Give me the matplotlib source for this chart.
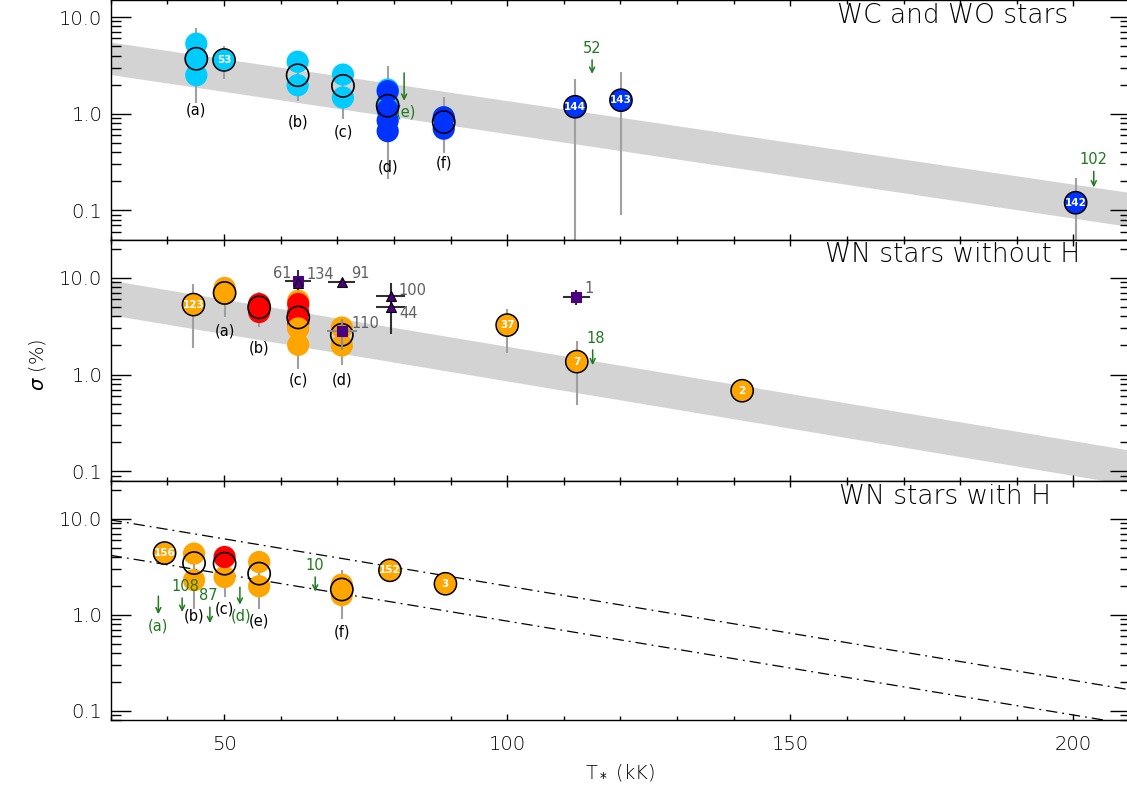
import matplotlib
matplotlib.use("Agg")
import matplotlib.pyplot as plt
import numpy as np
from matplotlib.ticker import LogLocator, NullFormatter, MultipleLocator

# ---------------- data ----------------
# colours of subtypes
type_colors = {"c": "#00CCFF", "b": "#0033FF", "o": "#FFA500", "r": "#FF0000"}

# ---- WC and WO stars (top) ----
wc_band_T = [30, 210]
wc_band_hi = [5.5, 0.153]
wc_band_lo = [2.54, 0.068]

wc_mem_T = [45.1, 45.1, 45.1, 63.0, 63.0, 71.0, 71.0,
            78.9, 78.9, 78.9, 78.9, 78.9, 78.9, 88.8, 88.8]
wc_mem_sig = [5.3, 3.7, 2.5, 3.45, 1.97, 2.54, 1.47,
              1.78, 1.3, 1.71, 1.1, 0.85, 0.66, 0.92, 0.70]
wc_mem_type = ["c", "c", "c", "c", "c", "c", "c",
               "c", "c", "b", "b", "b", "b", "b", "b"]

wc_grp_T = [45.1, 63.0, 71.0, 78.9, 88.8]
wc_grp_mean = [3.7, 2.5, 1.94, 1.21, 0.82]
wc_grp_lo = [1.3, 1.35, 0.89, 0.21, 0.39]
wc_grp_hi = [7.7, 3.8, 2.7, 3.09, 1.49]
wc_grp_name = ["(a)", "(b)", "(c)", "(d)", "(f)"]
wc_grp_lab_sig = [1.10, 0.83, 0.64, 0.284, 0.31]

wc_star_T = [50.0, 112.0, 120.1, 200.4]
wc_star_sig = [3.6, 1.18, 1.38, 0.12]
wc_star_lo = [2.3, 0.03, 0.09, 0.03]
wc_star_hi = [5.0, 2.3, 2.68, 0.217]
wc_star_id = ["53", "144", "143", "142"]
wc_star_type = ["c", "b", "b", "b"]

wc_lim_T = [81.8, 115.0, 203.6]
wc_lim_sig = [2.64, 3.6, 0.253]
wc_lim_name = ["(e)", "52", "102"]

# ---- WN stars without H (middle) ----
wn_band_T = [30, 210]
wn_band_hi = [9.45, 0.165]
wn_band_lo = [4.15, 0.072]

wn_mem_T = [50.1, 50.1, 50.1, 56.2, 56.2,
            63.1, 63.1, 63.1, 63.1, 63.1, 63.1, 70.8, 70.8]
wn_mem_sig = [7.3, 7.87, 6.87, 5.37, 4.44,
              5.8, 5.37, 4.4, 3.4, 3.0, 2.03, 3.07, 2.0]
wn_mem_type = ["r", "o", "o", "r", "r",
               "o", "r", "r", "r", "o", "o", "o", "o"]

wn_grp_T = [50.1, 56.2, 63.1, 70.8]
wn_grp_mean = [6.99, 4.96, 3.9, 2.58]
wn_grp_lo = [3.94, 3.1, 1.14, 1.26]
wn_grp_hi = [9.5, 7.2, 7.2, 3.8]
wn_grp_name = ["(a)", "(b)", "(c)", "(d)"]
wn_grp_lab_sig = [2.79, 1.88, 0.88, 0.88]

wn_star_T = [44.6, 100.0, 112.3, 141.5]
wn_star_sig = [5.3, 3.25, 1.36, 0.68]
wn_star_lo = [1.87, 1.66, 0.48, 0.52]
wn_star_hi = [8.7, 4.8, 2.23, 0.85]
wn_star_id = ["123", "37", "7", "2"]

# purple (other) objects
pu_T = [63.1, 63.1, 70.8, 79.4, 79.4, 70.8, 112.2]
pu_sig = [9.2, 8.9, 9.1, 6.44, 5.0, 2.84, 6.3]
pu_marker = ["s", "^", "^", "^", "^", "s", "s"]
pu_xerr = [2.3, 0.0, 2.4, 2.5, 2.5, 2.6, 2.4]
pu_ylo = [7.5, 8.9, 9.1, 6.44, 2.6, 1.8, 5.3]
pu_yhi = [12.0, 8.9, 9.1, 6.44, 8.9, 3.8, 7.55]
pu_id = ["61", "134", "91", "100", "44", "110", "1"]

wn_lim_T = [115.1]
wn_lim_sig = [1.8]
wn_lim_name = ["18"]

# ---- WN stars with H (bottom) ----
wnh_line_T = [30, 210]
wnh_line_hi = [9.7, 0.165]
wnh_line_lo = [4.15, 0.072]

wnh_mem_T = [44.7, 44.7, 50.1, 50.1, 56.2, 56.2, 70.8, 70.8]
wnh_mem_sig = [4.33, 2.29, 2.47, 3.99, 3.54, 1.98, 2.06, 1.6]
wnh_mem_type = ["o", "o", "o", "r", "o", "o", "o", "o"]

wnh_grp_T = [44.7, 50.1, 56.2, 70.8]
wnh_grp_mean = [3.45, 3.4, 2.68, 1.83]
wnh_grp_lo = [1.16, 1.53, 1.16, 0.91]
wnh_grp_hi = [4.5, 4.5, 4.0, 2.95]
wnh_grp_name = ["(b)", "(c)", "(e)", "(f)"]
wnh_grp_lab_sig = [0.96, 1.14, 0.855, 0.66]

wnh_star_T = [39.5, 79.3, 89.1]
wnh_star_sig = [4.39, 2.9, 2.1]
wnh_star_id = ["156", "152", "3"]

wnh_lim_T = [38.4, 42.6, 47.5, 52.8, 66.1]
wnh_lim_sig = [1.56, 1.49, 1.2, 1.93, 2.47]
wnh_lim_name = ["(a)", "108", "87", "(d)", "10"]

x_major = [50, 100, 150, 200]
y_major = [0.1, 1.0, 10.0]
y_major_labels = ["0.1", "1.0", "10.0"]

# ---------------- style ----------------
GREEN = "#1f7a1f"
ERRC = "#a0a0a0"
BAND = "#d3d3d3"
PURPLE = "#4B0082"
GRAYTXT = "#606060"
MS = 16.0  # marker size (points)

W, H = 1127, 796
fig = plt.figure(figsize=(W / 100, H / 100), dpi=100)


def rect(top_px, bot_px):
    left = 110.8 / W
    width = (1130 - 110.8) / W
    return [left, (H - bot_px) / H, width, (bot_px - top_px) / H]


ax1 = fig.add_axes(rect(0, 239.5))
ax2 = fig.add_axes(rect(239.5, 480.5))
ax3 = fig.add_axes(rect(480.5, 720))


def style(ax, ylim, show_x):
    ax.set_yscale("log")
    ax.set_xlim(30, 210)
    ax.set_ylim(*ylim)
    ax.set_yticks(y_major, labels=y_major_labels)
    ax.yaxis.set_minor_locator(LogLocator(base=10, subs=np.arange(2, 10)))
    ax.yaxis.set_minor_formatter(NullFormatter())
    ax.set_xticks(x_major)
    ax.xaxis.set_minor_locator(MultipleLocator(10))
    ax.tick_params(axis="y", which="major", direction="in", length=14.4,
                   width=1.0, left=True, right=True, labelsize=14, pad=6)
    ax.tick_params(axis="y", which="minor", direction="in", length=7.2,
                   width=1.0, left=True, right=True)
    ax.tick_params(axis="x", which="major", direction="in", length=4.3,
                   width=1.0, top=True, bottom=True, labelsize=14, pad=11,
                   labelbottom=show_x)
    ax.tick_params(axis="x", which="minor", direction="in", length=2.9,
                   width=1.0, top=True, bottom=True)
    for lab in ax.get_xticklabels() + ax.get_yticklabels():
        lab.set_fontweight("light")
    for sp in ax.spines.values():
        sp.set_linewidth(1.0)


style(ax1, (0.05, 15), False)
style(ax2, (0.08, 25), False)
style(ax3, (0.08, 25), True)


def members(ax, T, s, t):
    ax.scatter(T, s, s=MS ** 2, c=[type_colors[k] for k in t],
               edgecolors="none", zorder=3)


def groups(ax, T, mean, lo, hi, names, labsig):
    ax.vlines(T, lo, hi, color=ERRC, lw=1.5, zorder=2)
    ax.scatter(T, mean, s=MS ** 2, facecolors="none", edgecolors="k",
               linewidths=1.2, zorder=5)
    for x, y, n in zip(T, labsig, names):
        ax.text(x, y, n, ha="center", va="center", fontsize=10.5, zorder=6)


def stars(ax, T, s, ids, t, lo=None, hi=None):
    if lo is not None:
        ax.vlines(T, lo, hi, color=ERRC, lw=1.5, zorder=2)
    ax.scatter(T, s, s=MS ** 2, c=[type_colors[k] for k in t],
               edgecolors="k", linewidths=1.1, zorder=4)
    for x, y, n in zip(T, s, ids):
        ax.text(x, y, n, ha="center", va="center", fontsize=7.5,
                color="white", fontweight="bold", zorder=6)


def limits(ax, T, s, names, lens, label_pos):
    for x, y, n, L, (pos, off) in zip(T, s, names, lens, label_pos):
        ax.annotate("", xy=(x, y), xytext=(0, -L), textcoords="offset points",
                    arrowprops=dict(arrowstyle="<-", color=GREEN, lw=1.1,
                                    shrinkA=0, shrinkB=0, mutation_scale=9),
                    zorder=6)
        if pos == "above":
            ax.annotate(n, xy=(x, y), xytext=(off, 3), textcoords="offset points",
                        ha="center", va="bottom", fontsize=10.5, color=GREEN)
        else:
            ax.annotate(n, xy=(x, y), xytext=(off, -L - 3),
                        textcoords="offset points", ha="center", va="top",
                        fontsize=10.5, color=GREEN)


# ---- top panel ----
ax1.fill_between(wc_band_T, wc_band_lo, wc_band_hi, color=BAND, lw=0, zorder=1)
members(ax1, wc_mem_T, wc_mem_sig, wc_mem_type)
groups(ax1, wc_grp_T, wc_grp_mean, wc_grp_lo, wc_grp_hi, wc_grp_name, wc_grp_lab_sig)
stars(ax1, wc_star_T, wc_star_sig, wc_star_id, wc_star_type, wc_star_lo, wc_star_hi)
limits(ax1, wc_lim_T, wc_lim_sig, wc_lim_name, [20, 10, 11.5],
       [("below", 1), ("above", 0), ("above", 0)])
ax1.text(0.939, 0.934, "WC and WO stars", transform=ax1.transAxes,
         ha="right", va="center", fontsize=19, fontweight="light")

# ---- middle panel ----
ax2.fill_between(wn_band_T, wn_band_lo, wn_band_hi, color=BAND, lw=0, zorder=1)
members(ax2, wn_mem_T, wn_mem_sig, wn_mem_type)
groups(ax2, wn_grp_T, wn_grp_mean, wn_grp_lo, wn_grp_hi, wn_grp_name, wn_grp_lab_sig)
stars(ax2, wn_star_T, wn_star_sig, wn_star_id, ["o"] * len(wn_star_id),
      wn_star_lo, wn_star_hi)
for x, y, m, xe, ylo, yhi, n in zip(pu_T, pu_sig, pu_marker, pu_xerr,
                                      pu_ylo, pu_yhi, pu_id):
    ec = "#8c8c8c" if n == "110" else "#303030"
    if xe > 0:
        ax2.hlines(y, x - xe, x + xe, color=ec, lw=1.5, zorder=6)
    if yhi > ylo:
        ax2.vlines(x, ylo, yhi, color=ec, lw=1.5, zorder=6)
    ax2.plot([x], [y], marker=m, ms=7.5, color=PURPLE,
             mec="k" if m == "^" else PURPLE, mew=0.8, zorder=7, ls="none")
pu_lab = {"61": (-5, 6, "right"), "134": (6, 6, "left"), "91": (7, 6, "left"),
          "100": (6, 4, "left"), "44": (6, -5, "left"), "110": (7, 5, "left"),
          "1": (6, 6, "left")}
for x, y, n in zip(pu_T, pu_sig, pu_id):
    dx, dy, ha = pu_lab[n]
    ax2.annotate(n, xy=(x, y), xytext=(dx, dy), textcoords="offset points",
                 ha=ha, va="center", fontsize=10.5, color=GRAYTXT, zorder=8)
limits(ax2, wn_lim_T, wn_lim_sig, wn_lim_name, [11], [("above", 2)])
ax2.text(0.951, 0.937, "WN stars without H", transform=ax2.transAxes,
         ha="right", va="center", fontsize=19, fontweight="light")

# ---- bottom panel ----
ax3.plot(wnh_line_T, wnh_line_hi, color="k", lw=0.9, ls=(0, (9, 4, 1.5, 4)), zorder=1)
ax3.plot(wnh_line_T, wnh_line_lo, color="k", lw=0.9, ls=(0, (9, 4, 1.5, 4)), zorder=1)
members(ax3, wnh_mem_T, wnh_mem_sig, wnh_mem_type)
groups(ax3, wnh_grp_T, wnh_grp_mean, wnh_grp_lo, wnh_grp_hi, wnh_grp_name, wnh_grp_lab_sig)
stars(ax3, wnh_star_T, wnh_star_sig, wnh_star_id, ["o"] * len(wnh_star_id))
limits(ax3, wnh_lim_T, wnh_lim_sig, wnh_lim_name, [13, 10, 11.5, 12.5, 10.5],
       [("below", 0), ("above", 2), ("above", -1), ("below", 1), ("above", 0)])
ax3.text(0.922, 0.935, "WN stars with H", transform=ax3.transAxes,
         ha="right", va="center", fontsize=19, fontweight="light")

ax3.set_xlabel(r"T$_*$ (kK)", fontsize=14, labelpad=6, fontweight="light")
fig.text(37 / W, 1 - 365 / H, r"$\sigma$ (%)", rotation=90, ha="center",
         va="center", fontsize=14, fontweight="light")

fig.savefig("out.png", dpi=100)
